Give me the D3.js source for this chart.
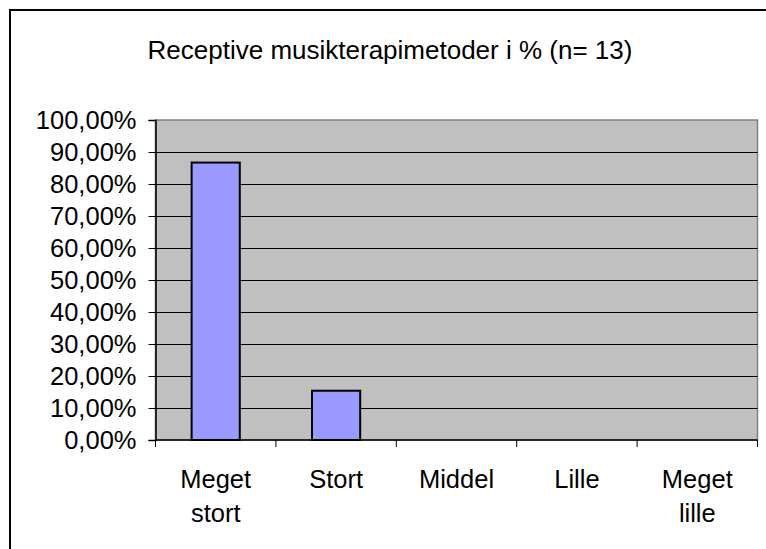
<!DOCTYPE html>
<html>
<head>
<meta charset="utf-8">
<script src="https://cdn.jsdelivr.net/npm/d3@7"></script>
<style>
  html, body { margin: 0; padding: 0; background: #fff; }
  svg { display: block; }
  text { font-family: "Liberation Sans", Arial, sans-serif; fill: #000; }
</style>
</head>
<body>
<div id="chart"></div>
<script>
const title = "Receptive musikterapimetoder i % (n= 13)";
const categories = ["Meget stort", "Stort", "Middel", "Lille", "Meget lille"];
const categoryLines = [["Meget", "stort"], ["Stort"], ["Middel"], ["Lille"], ["Meget", "lille"]];
const values = [86.7, 15.4, 0, 0, 0];
const yTicks = [0, 10, 20, 30, 40, 50, 60, 70, 80, 90, 100];

const W = 766, H = 549;
const plot = { left: 155.5, right: 757.5, top: 120, bottom: 440 };

const svg = d3.select("#chart").append("svg")
  .attr("width", W).attr("height", H);

// outer frame
svg.append("rect")
  .attr("x", 10).attr("y", 10)
  .attr("width", W + 20).attr("height", H + 20)
  .attr("fill", "#fff").attr("stroke", "#000").attr("stroke-width", 2);

const x = d3.scaleBand().domain(categories)
  .range([plot.left, plot.right]).paddingInner(0.6).paddingOuter(0.3);
const xb = d3.scaleBand().domain(categories).range([plot.left, plot.right]);
const y = d3.scaleLinear().domain([0, 100]).range([plot.bottom, plot.top]);

// plot background
svg.append("rect")
  .attr("x", plot.left).attr("y", plot.top)
  .attr("width", plot.right - plot.left).attr("height", plot.bottom - plot.top)
  .attr("fill", "#C0C0C0").attr("stroke", "#808080").attr("stroke-width", 1.5);

// gridlines
svg.append("g").selectAll("line")
  .data(yTicks.filter(d => d > 0 && d < 100))
  .join("line")
  .attr("x1", plot.left).attr("x2", plot.right)
  .attr("y1", d => Math.round(y(d)) + 0.5).attr("y2", d => Math.round(y(d)) + 0.5)
  .attr("stroke", "#000").attr("stroke-width", 1);

// bars
svg.append("g").selectAll("rect")
  .data(categories.map((c, i) => ({ c, v: values[i] })).filter(d => d.v > 0))
  .join("rect")
  .attr("x", d => x(d.c))
  .attr("y", d => y(d.v))
  .attr("width", x.bandwidth())
  .attr("height", d => y(0) - y(d.v))
  .attr("fill", "#9999FF").attr("stroke", "#000").attr("stroke-width", 2);

// y axis
const yAxis = d3.axisLeft(y).tickValues(yTicks).tickSize(7).tickPadding(12)
  .tickFormat(d => d3.format(".2f")(d).replace(".", ",") + "%");
const gy = svg.append("g").attr("transform", `translate(${plot.left},0)`).call(yAxis);
gy.select(".domain").attr("stroke", "#000").attr("stroke-width", 1.5);
gy.selectAll(".tick line").attr("stroke", "#000");
gy.selectAll(".tick text").attr("font-size", 25.5).attr("font-family", "Liberation Sans, Arial, sans-serif");

// x axis line + ticks at band boundaries
const boundaries = categories.map(c => xb(c)).concat([plot.right]);
svg.append("line")
  .attr("x1", plot.left).attr("x2", plot.right)
  .attr("y1", plot.bottom).attr("y2", plot.bottom)
  .attr("stroke", "#000").attr("stroke-width", 1.5);
svg.append("g").selectAll("line").data(boundaries).join("line")
  .attr("x1", d => d).attr("x2", d => d)
  .attr("y1", plot.bottom).attr("y2", plot.bottom + 7)
  .attr("stroke", "#000").attr("stroke-width", 1);

// x labels
const xl = svg.append("g").selectAll("text")
  .data(categories.map((c, i) => ({ c, lines: categoryLines[i] })))
  .join("text")
  .attr("text-anchor", "middle")
  .attr("font-size", 25.5)
  .attr("x", d => xb(d.c) + xb.bandwidth() / 2)
  .attr("y", 488);
xl.selectAll("tspan").data(d => d.lines.map(l => ({ l, x: xb(d.c) + xb.bandwidth() / 2 })))
  .join("tspan")
  .attr("x", d => d.x)
  .attr("dy", (d, i) => i === 0 ? 0 : 34)
  .text(d => d.l);

// title
svg.append("text")
  .attr("x", 390).attr("y", 59)
  .attr("text-anchor", "middle")
  .attr("font-size", 26)
  .text(title);
</script>
</body>
</html>
